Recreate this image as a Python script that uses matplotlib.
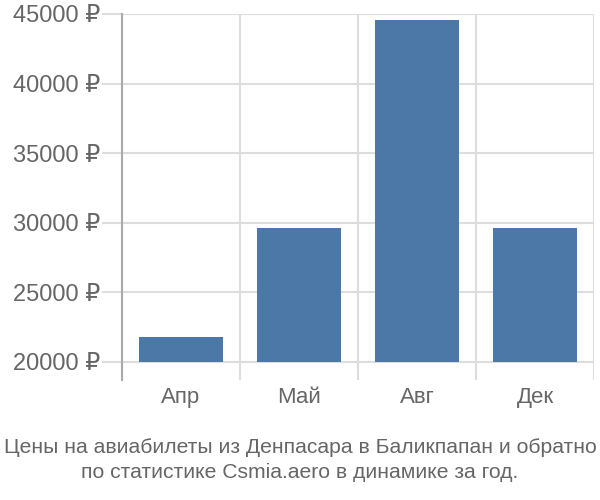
import matplotlib.pyplot as plt
import numpy as np

plt.rcParams['font.family'] = ['Liberation Sans', 'DejaVu Sans']

months = ['Апр', 'Май', 'Авг', 'Дек']
prices = [21800, 29650, 44600, 29650]
yticks = [20000, 25000, 30000, 35000, 40000, 45000]
base = 20000
title = ('Цены на авиабилеты из Денпасара в Баликпапан и обратно\n'
         'по статистике Csmia.aero в динамике за год.')

text_color = '#666666'
grid_color = '#dddddd'

fig = plt.figure(figsize=(6, 5), dpi=100)
ax = fig.add_axes([122 / 600, 1 - 380 / 500, 472 / 600, 366 / 500])

x = np.arange(len(months))
heights = [p - base for p in prices]
ax.bar(x, heights, bottom=base, width=0.71, color='#4c78a8', zorder=3)

ax.set_xlim(-0.5, len(months) - 0.5)
ax.set_ylim(base - 18 * 25000 / 348, 45000)

ax.set_yticks(yticks)
ax.set_yticklabels([f'{v} ₽' for v in yticks], fontsize=17, color=text_color)
ax.tick_params(axis='y', length=14.4, color=grid_color, width=1.5, pad=1)

ax.set_xticks(x)
ax.set_xticklabels(months, fontsize=16, color=text_color)
ax.tick_params(axis='x', length=0, pad=5)
ax.set_xticks(np.arange(len(months) + 1) - 0.5, minor=True)
ax.tick_params(axis='x', which='minor', length=0)

ax.grid(True, axis='y', color=grid_color, linewidth=1.5, zorder=0)
ax.grid(True, axis='x', which='minor', color=grid_color, linewidth=1.5, zorder=0)

for side in ['top', 'right', 'bottom']:
    ax.spines[side].set_visible(False)
ax.spines['left'].set_color('#aaaaaa')
ax.spines['left'].set_linewidth(1.5)

fig.text(0.5, 1 - 460 / 500, title, ha='center', va='center', fontsize=15.2,
         color=text_color, linespacing=1.35)

fig.savefig('out.png', dpi=100)
